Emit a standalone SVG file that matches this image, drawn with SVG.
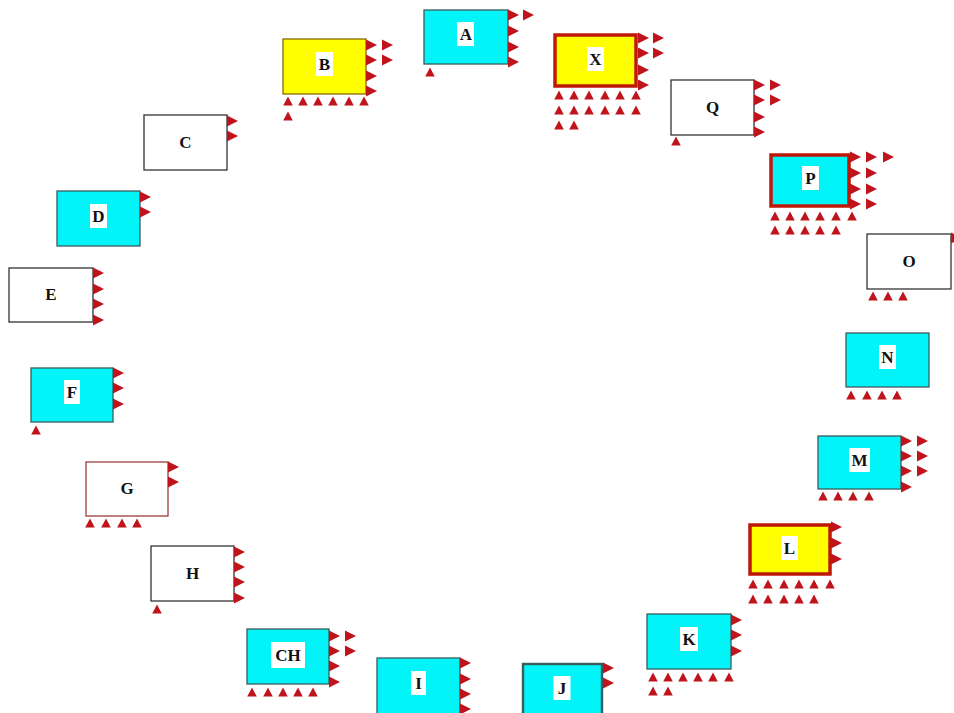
<svg xmlns="http://www.w3.org/2000/svg" xmlns:xlink="http://www.w3.org/1999/xlink" width="954" height="713" viewBox="0 0 954 713">
<style>
.bx{stroke-width:1.3}
.cy{fill:#00f4f8;stroke:#3a5c5c}
.wh{fill:#ffffff;stroke:#333333}
.ye{fill:#ffff00;stroke:#8a6a00}
.thk{stroke:#c01808;stroke-width:3.5}
.lb{fill:#ffffff}
.tx{font-family:"Liberation Serif","Times New Roman",serif;font-weight:bold;font-size:17px;fill:#111111;text-anchor:middle}
.t{fill:#c0141c}
</style>
<defs>
<path id="r" class="t" d="M0,-5.5 L11,0 L0,5.5 Z"/>
<path id="u" class="t" d="M-4.8,4.5 L0,-4.5 L4.8,4.5 Z"/>
</defs>
<rect width="954" height="713" fill="#ffffff"/>
<g id="connectors"/>

<g id="node-A">
<rect class="bx cy" x="424" y="10" width="84" height="54"/>
<rect class="lb" x="457" y="22" width="17" height="24"/>
<text class="tx" x="466" y="40">A</text>
<use href="#r" x="508" y="15"/><use href="#r" x="508" y="31"/><use href="#r" x="508" y="47"/><use href="#r" x="508" y="62"/>
<use href="#r" x="523" y="15"/>
<use href="#u" x="430" y="72"/>
</g>

<g id="node-B">
<rect class="bx ye" x="283" y="39" width="83" height="55"/>
<rect class="lb" x="316" y="52" width="17" height="24"/>
<text class="tx" x="324.5" y="70">B</text>
<use href="#r" x="366" y="45"/><use href="#r" x="366" y="60"/><use href="#r" x="366" y="76"/><use href="#r" x="366" y="91"/>
<use href="#r" x="382" y="45"/><use href="#r" x="382" y="60"/>
<use href="#u" x="288" y="101"/><use href="#u" x="303" y="101"/><use href="#u" x="318" y="101"/><use href="#u" x="333" y="101"/><use href="#u" x="349" y="101"/><use href="#u" x="364" y="101"/>
<use href="#u" x="288" y="116"/>
</g>

<g id="node-X">
<rect class="ye thk" x="555" y="35" width="81" height="51"/>
<rect class="lb" x="587" y="47" width="17" height="24"/>
<text class="tx" x="595.5" y="65">X</text>
<use href="#r" x="638" y="38"/><use href="#r" x="638" y="53"/><use href="#r" x="638" y="70"/><use href="#r" x="638" y="85"/>
<use href="#r" x="653" y="38"/><use href="#r" x="653" y="53"/>
<use href="#u" x="559" y="95"/><use href="#u" x="574" y="95"/><use href="#u" x="589" y="95"/><use href="#u" x="605" y="95"/><use href="#u" x="620" y="95"/><use href="#u" x="636" y="95"/>
<use href="#u" x="559" y="110"/><use href="#u" x="574" y="110"/><use href="#u" x="589" y="110"/><use href="#u" x="605" y="110"/><use href="#u" x="620" y="110"/><use href="#u" x="636" y="110"/>
<use href="#u" x="559" y="125"/><use href="#u" x="574" y="125"/>
</g>

<g id="node-Q">
<rect class="bx wh" x="671" y="80" width="83" height="55"/>
<text class="tx" x="712.5" y="113">Q</text>
<use href="#r" x="754" y="85"/><use href="#r" x="754" y="100"/><use href="#r" x="754" y="117"/><use href="#r" x="754" y="132"/>
<use href="#r" x="770" y="85"/><use href="#r" x="770" y="100"/>
<use href="#u" x="676" y="141"/>
</g>

<g id="node-P">
<rect class="cy thk" x="771" y="155" width="78" height="51"/>
<rect class="lb" x="802" y="166" width="17" height="24"/>
<text class="tx" x="810.5" y="184">P</text>
<use href="#r" x="850" y="157"/><use href="#r" x="850" y="173"/><use href="#r" x="850" y="189"/><use href="#r" x="850" y="204"/>
<use href="#r" x="866" y="157"/><use href="#r" x="866" y="173"/><use href="#r" x="866" y="189"/><use href="#r" x="866" y="204"/>
<use href="#r" x="883" y="157"/>
<use href="#u" x="775" y="216"/><use href="#u" x="790" y="216"/><use href="#u" x="805" y="216"/><use href="#u" x="820" y="216"/><use href="#u" x="836" y="216"/><use href="#u" x="852" y="216"/>
<use href="#u" x="775" y="230"/><use href="#u" x="790" y="230"/><use href="#u" x="805" y="230"/><use href="#u" x="820" y="230"/><use href="#u" x="836" y="230"/>
</g>

<g id="node-O">
<rect class="bx wh" x="867" y="234" width="84" height="55"/>
<text class="tx" x="909" y="267">O</text>
<use href="#r" x="951" y="238"/>
<use href="#u" x="873" y="296"/><use href="#u" x="888" y="296"/><use href="#u" x="903" y="296"/>
</g>

<g id="node-N">
<rect class="bx cy" x="846" y="333" width="83" height="54"/>
<rect class="lb" x="879" y="345" width="17" height="24"/>
<text class="tx" x="887.5" y="363">N</text>
<use href="#u" x="851" y="395"/><use href="#u" x="867" y="395"/><use href="#u" x="882" y="395"/><use href="#u" x="897" y="395"/>
</g>

<g id="node-M">
<rect class="bx cy" x="818" y="436" width="83" height="53"/>
<rect class="lb" x="849" y="448" width="21" height="24"/>
<text class="tx" x="859.5" y="466">M</text>
<use href="#r" x="901" y="441"/><use href="#r" x="901" y="456"/><use href="#r" x="901" y="471"/><use href="#r" x="901" y="487"/>
<use href="#r" x="917" y="441"/><use href="#r" x="917" y="456"/><use href="#r" x="917" y="471"/>
<use href="#u" x="823" y="496"/><use href="#u" x="838" y="496"/><use href="#u" x="853" y="496"/><use href="#u" x="869" y="496"/>
</g>

<g id="node-L">
<rect class="ye thk" x="750" y="525" width="80" height="49"/>
<rect class="lb" x="781" y="536" width="17" height="24"/>
<text class="tx" x="789.5" y="554">L</text>
<use href="#r" x="831" y="527"/><use href="#r" x="831" y="543"/><use href="#r" x="831" y="559"/>
<use href="#u" x="753" y="584"/><use href="#u" x="768" y="584"/><use href="#u" x="784" y="584"/><use href="#u" x="799" y="584"/><use href="#u" x="814" y="584"/><use href="#u" x="830" y="584"/>
<use href="#u" x="753" y="599"/><use href="#u" x="768" y="599"/><use href="#u" x="784" y="599"/><use href="#u" x="799" y="599"/><use href="#u" x="814" y="599"/>
</g>

<g id="node-K">
<rect class="bx cy" x="647" y="614" width="84" height="55"/>
<rect class="lb" x="680" y="627" width="18" height="24"/>
<text class="tx" x="689" y="645">K</text>
<use href="#r" x="731" y="620"/><use href="#r" x="731" y="635"/><use href="#r" x="731" y="651"/>
<use href="#u" x="653" y="677"/><use href="#u" x="668" y="677"/><use href="#u" x="683" y="677"/><use href="#u" x="698" y="677"/><use href="#u" x="713" y="677"/><use href="#u" x="729" y="677"/>
<use href="#u" x="653" y="691"/><use href="#u" x="668" y="691"/>
</g>

<g id="node-J">
<rect class="cy" x="523" y="664" width="79" height="54" stroke="#111111" stroke-width="2.4"/>
<rect class="lb" x="553.5" y="676" width="17" height="24"/>
<text class="tx" x="562" y="694">J</text>
<use href="#r" x="603" y="668"/><use href="#r" x="603" y="683"/>
</g>

<g id="node-I">
<rect class="bx cy" x="377" y="658" width="83" height="60"/>
<rect class="lb" x="411" y="671" width="15" height="24"/>
<text class="tx" x="418.5" y="689">I</text>
<use href="#r" x="460" y="663"/><use href="#r" x="460" y="679"/><use href="#r" x="460" y="694"/><use href="#r" x="460" y="709"/>
</g>

<g id="node-CH">
<rect class="bx cy" x="247" y="629" width="82" height="55"/>
<rect class="lb" x="271" y="642" width="34" height="26"/>
<text class="tx" x="288" y="661">CH</text>
<use href="#r" x="329" y="636"/><use href="#r" x="329" y="651"/><use href="#r" x="329" y="666"/><use href="#r" x="329" y="682"/>
<use href="#r" x="345" y="636"/><use href="#r" x="345" y="651"/>
<use href="#u" x="252" y="692"/><use href="#u" x="268" y="692"/><use href="#u" x="283" y="692"/><use href="#u" x="298" y="692"/><use href="#u" x="313" y="692"/>
</g>

<g id="node-H">
<rect class="bx wh" x="151" y="546" width="83" height="55"/>
<text class="tx" x="192.5" y="579">H</text>
<use href="#r" x="234" y="552"/><use href="#r" x="234" y="567"/><use href="#r" x="234" y="582"/><use href="#r" x="234" y="598"/>
<use href="#u" x="157" y="609"/>
</g>

<g id="node-G">
<rect class="bx" x="86" y="462" width="82" height="54" fill="#ffffff" stroke="#a03c3c"/>
<text class="tx" x="127" y="494">G</text>
<use href="#r" x="168" y="467"/><use href="#r" x="168" y="482"/>
<use href="#u" x="90" y="523"/><use href="#u" x="106" y="523"/><use href="#u" x="122" y="523"/><use href="#u" x="137" y="523"/>
</g>

<g id="node-F">
<rect class="bx cy" x="31" y="368" width="82" height="54"/>
<rect class="lb" x="64" y="380" width="16" height="24"/>
<text class="tx" x="72" y="398">F</text>
<use href="#r" x="113" y="373"/><use href="#r" x="113" y="388"/><use href="#r" x="113" y="404"/>
<use href="#u" x="36" y="430"/>
</g>

<g id="node-E">
<rect class="bx wh" x="9" y="268" width="84" height="54"/>
<text class="tx" x="51" y="300">E</text>
<use href="#r" x="93" y="273"/><use href="#r" x="93" y="289"/><use href="#r" x="93" y="304"/><use href="#r" x="93" y="320"/>
</g>

<g id="node-D">
<rect class="bx cy" x="57" y="191" width="83" height="55"/>
<rect class="lb" x="90" y="204" width="17" height="24"/>
<text class="tx" x="98.5" y="222">D</text>
<use href="#r" x="140" y="197"/><use href="#r" x="140" y="212"/>
</g>

<g id="node-C">
<rect class="bx wh" x="144" y="115" width="83" height="55"/>
<text class="tx" x="185.5" y="148">C</text>
<use href="#r" x="227" y="121"/><use href="#r" x="227" y="136"/>
</g>
</svg>
